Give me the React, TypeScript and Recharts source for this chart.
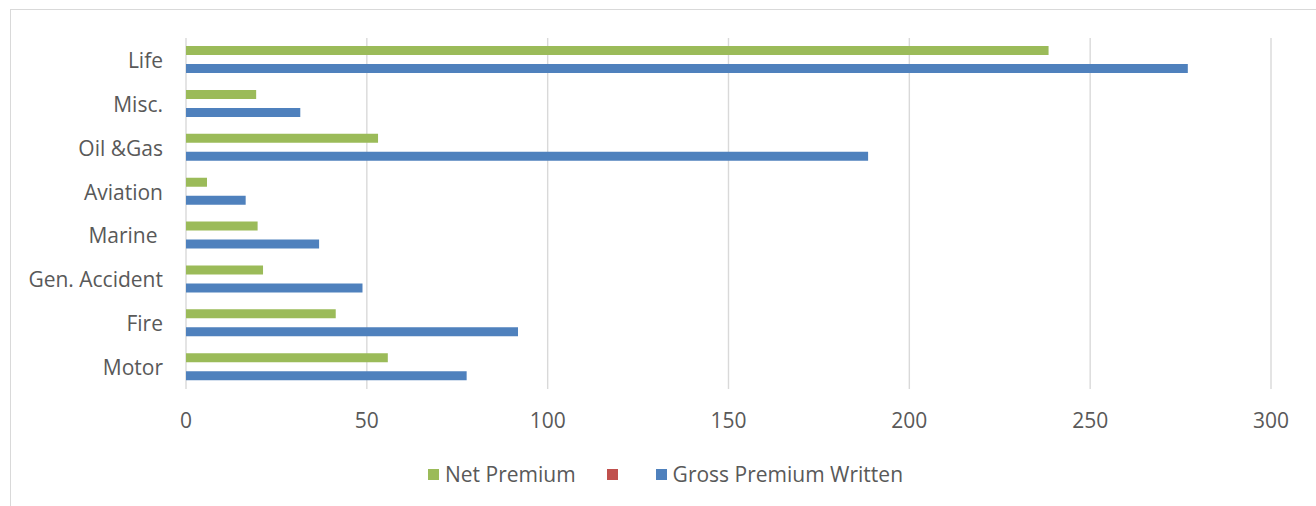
import React from "react";
import { BarChart, Bar, XAxis, YAxis, CartesianGrid, Legend } from "recharts";

// Premium figures by line of business (top row first)
const categories = ["Life", "Misc.", "Oil &Gas", "Aviation", "Marine ", "Gen. Accident", "Fire", "Motor"];
const netPremium = [238.5, 19.4, 53.1, 5.8, 19.8, 21.3, 41.4, 55.8];
const blankSeries: (number | null)[] = [null, null, null, null, null, null, null, null];
const grossPremiumWritten = [277, 31.6, 188.6, 16.5, 36.8, 48.8, 91.8, 77.6];
const xTicks = [0, 50, 100, 150, 200, 250, 300];

const series = [
  { key: "net", label: "Net Premium", color: "#9BBB59" },
  { key: "blank", label: "", color: "#C0504D" },
  { key: "gross", label: "Gross Premium Written", color: "#4F81BD" },
];

const data = categories.map((name, i) => ({
  name,
  net: netPremium[i],
  blank: blankSeries[i],
  gross: grossPremiumWritten[i],
}));

const FONT = "'Open Sans', sans-serif";
const TEXT = "#595959";
const GRID = "#d9d9d9";

const CategoryTick = (props: any) => (
  <text
    x={props.x}
    y={props.y}
    textAnchor="end"
    dominantBaseline="central"
    fill={TEXT}
    fontSize={21}
    fontFamily={FONT}
    style={{ whiteSpace: "pre" }}
  >
    {props.payload.value}
  </text>
);

const seriesIndex = (key: any) => series.findIndex((s) => s.key === key);

const LegendContent = (props: any) => {
  const items = [...(props.payload || [])].sort((a: any, b: any) => seriesIndex(a.dataKey) - seriesIndex(b.dataKey));
  return (
    <div
      style={{
        display: "flex",
        justifyContent: "center",
        alignItems: "center",
        height: 30,
        paddingLeft: 46,
        fontFamily: FONT,
        fontSize: 21,
        color: TEXT,
      }}
    >
      {items.map((entry: any) => {
        const s = series[seriesIndex(entry.dataKey)];
        const hasLabel = !!(s && s.label);
        return (
          <div key={String(entry.dataKey)} style={{ display: "flex", alignItems: "center", marginRight: hasLabel ? 31 : 38 }}>
            <span style={{ width: 11, height: 11, background: entry.color, display: "inline-block", marginRight: hasLabel ? 6 : 0 }} />
            <span style={{ whiteSpace: "pre" }}>{s ? s.label : ""}</span>
          </div>
        );
      })}
    </div>
  );
};

export default function App() {
  return (
    <div style={{ position: "absolute", left: 0, top: 0, width: 1316, height: 506, background: "#fff", overflow: "hidden" }}>
      <div
        style={{
          position: "absolute",
          left: 10,
          top: 9,
          width: 1400,
          height: 600,
          border: `1.5px solid ${GRID}`,
          boxSizing: "border-box",
        }}
      />
      <BarChart
        width={1316}
        height={506}
        data={data}
        layout="vertical"
        margin={{ top: 38, right: 45, left: 10, bottom: 47 }}
        barGap={0}
        barCategoryGap="18.5%"
        style={{ position: "absolute", left: 0, top: 0 }}
      >
        <CartesianGrid horizontal={false} stroke={GRID} strokeWidth={1.4} />
        <XAxis
          type="number"
          domain={[0, 300]}
          ticks={xTicks}
          axisLine={false}
          tickLine={false}
          tickSize={0}
          tickMargin={24}
          height={40}
          tick={{ fill: TEXT, fontSize: 21, fontFamily: FONT }}
          interval={0}
        />
        <YAxis
          type="category"
          dataKey="name"
          width={176}
          axisLine={false}
          tickLine={false}
          tickSize={0}
          tickMargin={23}
          tick={<CategoryTick />}
          interval={0}
        />
        <Legend
          verticalAlign="bottom"
          content={<LegendContent />}
          wrapperStyle={{ top: 459, bottom: "auto", left: 0, width: 1316, height: 30 }}
        />
        {series.map((s) => (
          <Bar key={s.key} dataKey={s.key} name={s.label || " "} fill={s.color} isAnimationActive={false} />
        ))}
      </BarChart>
    </div>
  );
}
